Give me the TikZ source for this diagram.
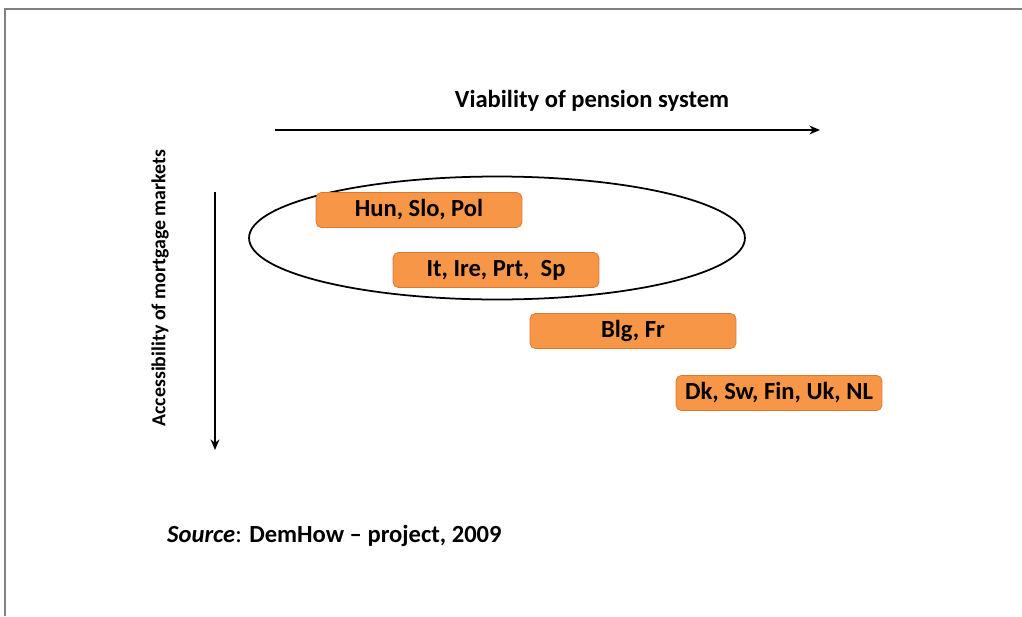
\documentclass[tikz,border=0pt]{standalone}
\usepackage{fontspec}
\setmainfont{Carlito}
\usetikzlibrary{shapes.geometric,arrows.meta}
\definecolor{boxorange}{HTML}{F79646}
\definecolor{boxedge}{HTML}{D9782F}
\tikzset{
  country/.style={draw=boxedge, fill=boxorange, rounded corners=3pt, minimum width=4.12cm, minimum height=0.7cm, font=\bfseries\fontsize{14}{16}\selectfont},
  axislabel/.style={font=\bfseries\fontsize{14}{16}\selectfont},
  axisarrow/.style={-{Stealth[length=6pt,width=5pt]},line width=1.1pt}
}
\begin{document}
\begin{tikzpicture}[x=0.02cm,y=-0.02cm]
    \useasboundingbox (0,0) rectangle (1022,616);
    % Frame
    \draw[gray,line width=1pt] (5,616) -- (5,9) -- (1022,9);
    % Axes
    \node[axislabel] (viab) at (592,101) {Viability of pension system};
    \coordinate (hstart) at (275,130);
    \coordinate (hend) at (820,130);
    \draw[axisarrow] (hstart) -- (hend);
    \node[axislabel,rotate=90,font=\bfseries\fontsize{11.3}{13}\selectfont] (access) at (160,288) {Accessibility of mortgage markets};
    \coordinate (vstart) at (215,192);
    \coordinate (vend) at (215,450);
    \draw[axisarrow] (vstart) -- (vend);
    % Group of countries
    \node[draw,ellipse,line width=1pt,minimum width=9.92cm,minimum height=2.46cm] (group) at (497,238) {};
    \node[country] (hun) at (419,210) {Hun, Slo, Pol};
    \node[country] (it) at (496,270) {It, Ire, Prt,\ \ Sp};
    \node[country] (blg) at (633,331) {Blg, Fr};
    \node[country] (dk) at (779,393) {Dk, Sw, Fin, Uk, NL};
    % Source
    \node[anchor=west,font=\fontsize{14}{16}\selectfont] (src) at (161,536) {\textbf{\textit{Source}}: \textbf{DemHow -- project, 2009}};
\end{tikzpicture}
\end{document}
